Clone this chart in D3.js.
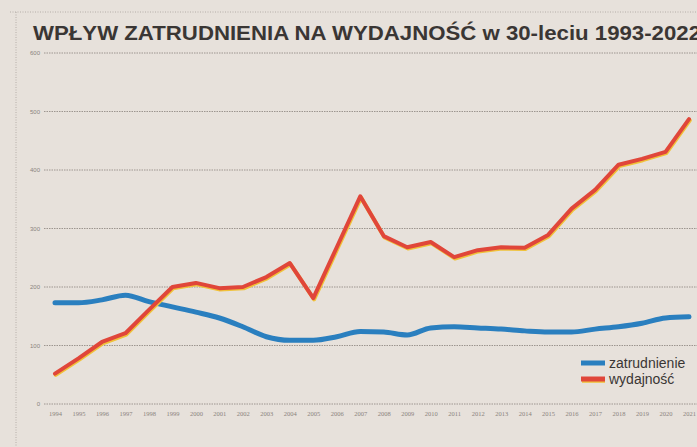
<!DOCTYPE html>
<html><head><meta charset="utf-8">
<script src="https://cdn.jsdelivr.net/npm/d3@7/dist/d3.min.js"></script>
<style>html,body{margin:0;padding:0;background:#e7e1db;}svg{display:block;}</style>
</head><body>
<svg id="c" width="697" height="447"></svg>
<script>
const years = d3.range(1994, 2022);
const zatrudnienie = [173,173,178,186,175,166,157,147,132,115,109,109,115,124,123,118,130,132,130,128,125,123,123,128,132,138,147,149];
const wydajnosc = [52,78,106,121,161,200,207,198,200,217,241,181,268,355,287,268,277,251,263,268,267,289,334,366,409,419,431,487];
const yTicks = [0,100,200,300,400,500,600];
const title = "WPŁYW ZATRUDNIENIA NA WYDAJNOŚĆ w 30-leciu 1993-2022";
const legendLabels = ["zatrudnienie","wydajność"];

const svg = d3.select("#c");
const W = 697, H = 447;
svg.append("rect").attr("width",W).attr("height",H).attr("fill","#e7e1db");
// frame dotted lines
svg.append("line").attr("x1",10).attr("x2",W).attr("y1",12).attr("y2",12)
  .attr("stroke","#b5aea8").attr("stroke-dasharray","1,1.5");
svg.append("line").attr("x1",16).attr("x2",16).attr("y1",12).attr("y2",H)
  .attr("stroke","#b5aea8").attr("stroke-dasharray","1,1.5");

const x = d3.scalePoint().domain(years).range([55, 689]);
const y = d3.scaleLinear().domain([0,600]).range([404, 53]);

// grid
svg.append("g").selectAll("line").data(yTicks).join("line")
  .attr("x1",44).attr("x2",W).attr("y1",d=>y(d)).attr("y2",d=>y(d))
  .attr("stroke","#9c958f").attr("stroke-width",1).attr("stroke-dasharray","1.5,1");

// y axis labels
const yAxis = d3.axisLeft(y).tickValues(yTicks).tickSize(0).tickPadding(0);
const gy = svg.append("g").attr("transform","translate(40,0)").call(yAxis);
gy.select(".domain").remove();
gy.selectAll("text").attr("font-family","Liberation Sans, Arial").attr("font-size",6).attr("fill","#8a837d");

// x axis labels
const xAxis = d3.axisBottom(x).tickSize(0).tickPadding(0).tickFormat(d3.format("d"));
const gx = svg.append("g").attr("transform","translate(0,411)").call(xAxis);
gx.select(".domain").remove();
gx.selectAll("text").attr("font-family","Liberation Serif, Times New Roman").attr("font-size",6.5).attr("fill","#8a837d");

// title
svg.append("text").attr("x",33).attr("y",40).text(title)
  .attr("font-family","Liberation Sans Narrow, Arial Narrow, Liberation Sans, Arial")
  .attr("font-weight","bold").attr("font-size",21).attr("fill","#3a3634")
  .attr("textLength",668).attr("lengthAdjust","spacingAndGlyphs");

// lines
const blueLine = d3.line().x((d,i)=>x(years[i])).y(d=>y(d)).curve(d3.curveMonotoneX);
const redLine = d3.line().x((d,i)=>x(years[i])).y(d=>y(d));

svg.append("path").datum(zatrudnienie).attr("d",blueLine)
  .attr("fill","none").attr("stroke","#2a7fbf").attr("stroke-width",5)
  .attr("stroke-linejoin","round").attr("stroke-linecap","round");

svg.append("path").datum(wydajnosc).attr("d",redLine).attr("transform","translate(0.8,1.3)")
  .attr("fill","none").attr("stroke","#f0c23a").attr("stroke-width",4)
  .attr("stroke-linejoin","round").attr("stroke-linecap","round");
svg.append("path").datum(wydajnosc).attr("d",redLine)
  .attr("fill","none").attr("stroke","#e0463a").attr("stroke-width",4)
  .attr("stroke-linejoin","round").attr("stroke-linecap","round");

// legend
const lg = svg.append("g");
const lgColors = ["#2a7fbf","#e0463a"];
legendLabels.forEach((t,i)=>{
  const yy = 363 + i*16;
  if(i===1) lg.append("line").attr("x1",582).attr("x2",605).attr("y1",yy+1.3).attr("y2",yy+1.3)
    .attr("stroke","#f0c23a").attr("stroke-width",5);
  lg.append("line").attr("x1",581).attr("x2",605).attr("y1",yy).attr("y2",yy)
    .attr("stroke",lgColors[i]).attr("stroke-width",5);
  lg.append("text").attr("x",609).attr("y",yy+5).text(t)
    .attr("font-family","Liberation Sans, Arial").attr("font-size",14).attr("fill","#3a3634");
});
</script>
</body></html>
